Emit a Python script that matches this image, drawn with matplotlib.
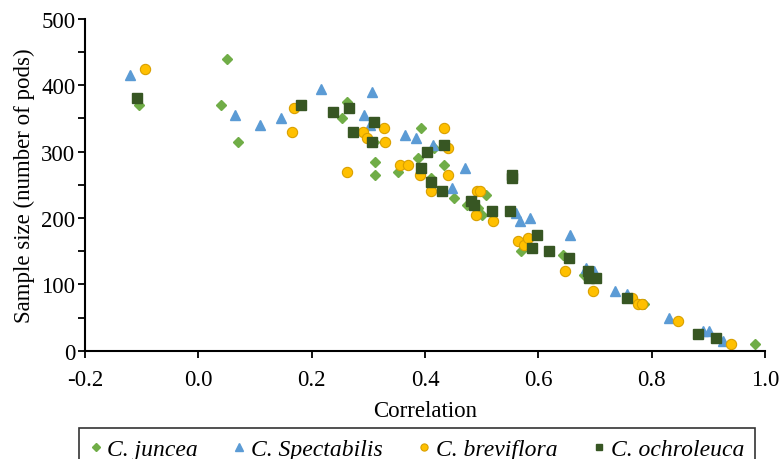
import matplotlib
matplotlib.use("Agg")
import matplotlib.pyplot as plt
from matplotlib.ticker import MultipleLocator

plt.rcParams['font.family'] = ['Liberation Serif', 'DejaVu Serif']

# correlation / sample size pairs
juncea_x = [-0.105, 0.05, 0.04, 0.07, 0.253, 0.263, 0.31, 0.311, 0.312, 0.353, 0.388, 0.392, 0.41,
            0.415, 0.433, 0.451, 0.474, 0.494, 0.50, 0.508, 0.569, 0.643, 0.68, 0.787, 0.982]
juncea_y = [370, 440, 370, 315, 350, 375, 315, 285, 265, 270, 290, 335, 260,
            305, 280, 230, 220, 215, 205, 235, 150, 145, 115, 70, 10]

spect_x = [-0.12, 0.065, 0.108, 0.145, 0.217, 0.292, 0.302, 0.306, 0.364, 0.384, 0.414, 0.447, 0.47,
           0.56, 0.568, 0.585, 0.655, 0.684, 0.698, 0.735, 0.757, 0.83, 0.89, 0.90, 0.925]
spect_y = [415, 355, 340, 350, 395, 355, 340, 390, 325, 320, 310, 245, 275,
           208, 195, 200, 175, 125, 120, 90, 85, 50, 30, 30, 15]

brev_x = [-0.095, 0.165, 0.168, 0.263, 0.29, 0.298, 0.328, 0.329, 0.355, 0.37, 0.391, 0.41, 0.433,
          0.44, 0.44, 0.49, 0.491, 0.497, 0.52, 0.564, 0.574, 0.581, 0.647, 0.696, 0.765, 0.775,
          0.782, 0.846, 0.94]
brev_y = [425, 330, 365, 270, 330, 320, 335, 315, 280, 280, 265, 240, 335,
          305, 265, 205, 240, 240, 195, 165, 160, 170, 120, 90, 80, 70,
          70, 45, 10]

ochro_x = [-0.108, 0.181, 0.237, 0.265, 0.272, 0.306, 0.309, 0.392, 0.404, 0.41, 0.43, 0.434, 0.481,
           0.487, 0.518, 0.549, 0.554, 0.554, 0.588, 0.597, 0.619, 0.653, 0.688, 0.69, 0.702, 0.757,
           0.882, 0.913]
ochro_y = [380, 370, 360, 365, 330, 315, 345, 275, 300, 255, 240, 310, 225,
           220, 210, 210, 260, 265, 155, 175, 150, 140, 120, 110, 110, 80,
           25, 20]

fs = 16.5

fig = plt.figure(figsize=(7.8, 4.6), dpi=100)
ax = fig.add_axes([0.109, 0.235, 0.872, 0.722])

ax.plot(juncea_x, juncea_y, linestyle='none', marker='D', markersize=5.2,
        color='#70AD47', markeredgecolor='#70AD47', label='C. juncea')
ax.plot(spect_x, spect_y, linestyle='none', marker='^', markersize=7.5,
        color='#5B9BD5', markeredgecolor='#5B9BD5', label='C. Spectabilis')
ax.plot(brev_x, brev_y, linestyle='none', marker='o', markersize=7.4,
        color='#FFC000', markeredgecolor='#D9A000', markeredgewidth=0.8, label='C. breviflora')
ax.plot(ochro_x, ochro_y, linestyle='none', marker='s', markersize=7.0,
        color='#375623', markeredgecolor='#375623', label='C. ochroleuca')

ax.set_xlim(-0.2, 1.0)
ax.set_ylim(0, 500)
ax.yaxis.set_major_locator(MultipleLocator(100))
ax.yaxis.set_minor_locator(MultipleLocator(50))
ax.set_xticks([-0.2, 0.0, 0.2, 0.4, 0.6, 0.8, 1.0])
ax.set_xticklabels(['-0.2', '0.0', '0.2', '0.4', '0.6', '0.8', '1.0'])

for side in ['top', 'right']:
    ax.spines[side].set_visible(False)
for side in ['left', 'bottom']:
    ax.spines[side].set_linewidth(1.5)
    ax.spines[side].set_color('black')

ax.tick_params(axis='both', which='major', labelsize=fs, width=1.3, length=5, direction='out',
               color='black', pad=2)
ax.tick_params(axis='x', which='major', pad=8)
ax.tick_params(axis='y', which='minor', width=1.3, length=5, direction='out')

ax.set_xlabel('Correlation', fontsize=fs, labelpad=7)
ax.set_ylabel('Sample size (number of pods)', fontsize=fs, labelpad=4)

leg = fig.legend(loc='upper left', bbox_to_anchor=(79 / 780, 1 - 429 / 460),
                 ncol=4, frameon=True, fancybox=False, edgecolor='black',
                 prop={'style': 'italic', 'size': 17}, markerscale=0.7,
                 handlelength=0.5, handletextpad=0.25, columnspacing=1.5,
                 borderpad=0.45, borderaxespad=0)
leg.get_frame().set_linewidth(1.2)

fig.savefig('out.png', dpi=100)
